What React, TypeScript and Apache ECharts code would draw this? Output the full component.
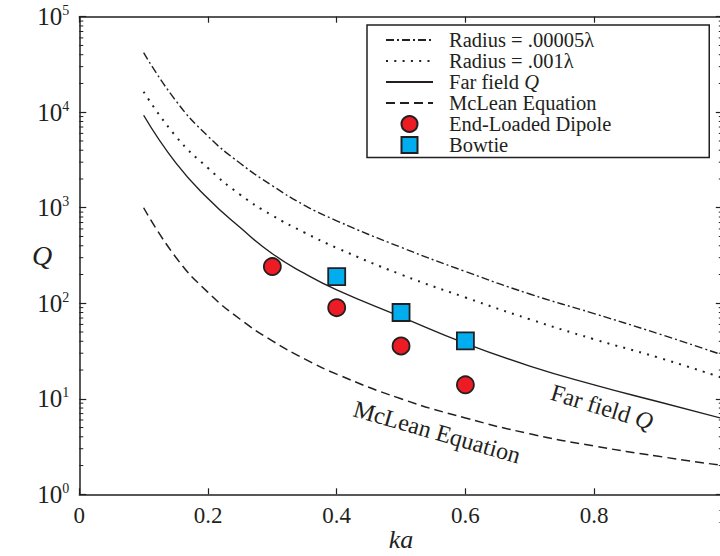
import React, { useEffect, useRef } from 'react';
import * as echarts from 'echarts';

// ka sample positions for the four curves
const kaCurve = [0.1, 0.15, 0.2, 0.25, 0.3, 0.35, 0.4, 0.5, 0.6, 0.7, 0.8, 0.9, 1.0];
// Q values
const qRadius00005 = [42000, 13200, 5600, 2920, 1700, 1060, 730, 385, 215, 125, 78, 48, 28.7];
const qRadius001 = [16400, 5600, 2600, 1370, 830, 550, 380, 200, 115, 68, 42, 27, 16.5];
const qFarField = [9300, 2950, 1250, 620, 330, 205, 138, 72, 38, 22, 14, 9.3, 6.2];
const qMcLean = [1000, 303, 130, 68, 40.4, 26.2, 18.1, 10, 6.3, 4.3, 3.2, 2.5, 2.0];

// measured antennas
const kaDipole = [0.3, 0.4, 0.5, 0.6];
const qDipole = [242, 90, 35.7, 14.0];
const kaBowtie = [0.4, 0.5, 0.6];
const qBowtie = [190, 80, 40.3];

// axis ticks
const xTicks = [0, 0.2, 0.4, 0.6, 0.8, 1];
const decades = [1, 10, 100, 1000, 10000];
const minorMultipliers = [2, 3, 4, 5, 6, 7, 8, 9];
const minorTickValues = decades.flatMap((d) => minorMultipliers.map((m) => m * d));

const seriesNames = [
  'Radius = .00005λ',
  'Radius = .001λ',
  'Far field Q',
  'McLean Equation',
  'End-Loaded Dipole',
  'Bowtie',
];

const INK = '#231F20';
const SERIF = '"Liberation Serif", "DejaVu Serif", serif';

const pairs = (xs: number[], ys: number[]) => xs.map((x, i) => [x, ys[i]]);

export default function App() {
  const ref = useRef<HTMLDivElement>(null);

  useEffect(() => {
    const chart = echarts.init(ref.current!, null, { renderer: 'svg' });

    const axisLine = { show: true, onZero: false, lineStyle: { color: INK, width: 1.5 } };

    const lineSeries = (name: string, data: number[], type: any, width: number) => ({
      name,
      type: 'line',
      data: pairs(kaCurve, data),
      showSymbol: false,
      symbol: 'none',
      smooth: 0.5,
      lineStyle: { color: INK, width, type },
      itemStyle: { color: INK },
      z: 3,
    });

    const hiddenIcon = {
      color: 'rgba(0,0,0,0)',
      borderColor: 'rgba(0,0,0,0)',
      borderWidth: 0,
      opacity: 0,
    };

    const option: any = {
      animation: false,
      backgroundColor: '#ffffff',
      textStyle: { fontFamily: SERIF, color: INK },
      grid: { left: 79.3, top: 16.7, width: 643.5, height: 477.6, containLabel: false, outerBoundsMode: 'none' },
      legend: {
        data: [
          { name: seriesNames[0], itemStyle: hiddenIcon },
          { name: seriesNames[1], itemStyle: hiddenIcon },
          { name: seriesNames[2], itemStyle: hiddenIcon },
          { name: seriesNames[3], itemStyle: hiddenIcon },
          { name: seriesNames[4] },
          { name: seriesNames[5], icon: 'path://M0,0L16,0L16,16L0,16Z' },
        ],
        orient: 'vertical',
        left: 367,
        top: 25,
        itemWidth: 47,
        itemHeight: 16,
        itemGap: 0,
        symbolKeepAspect: true,
        padding: [4.5, 98, 2, 18],
        borderColor: INK,
        borderWidth: 1.5,
        backgroundColor: '#ffffff',
        selectedMode: false,
        textStyle: {
          fontFamily: SERIF,
          fontSize: 20.5,
          color: INK,
          lineHeight: 20.7,
          padding: [0, 0, 0, 11],
          rich: { i: { fontFamily: SERIF, fontSize: 20.5, lineHeight: 20.7, fontStyle: 'italic', color: INK } },
        },
        formatter: (name: string) => (name === 'Far field Q' ? 'Far field {i|Q}' : name),
      },
      xAxis: [
        {
          type: 'value',
          min: xTicks[0],
          max: xTicks[xTicks.length - 1],
          interval: 0.2,
          position: 'bottom',
          axisLine,
          axisTick: { show: true, inside: true, length: 6, lineStyle: { color: INK, width: 1.2 } },
          axisLabel: { fontFamily: SERIF, fontSize: 23, color: INK, margin: 10 },
          splitLine: { show: false },
          name: 'ka',
          nameLocation: 'middle',
          nameGap: 32,
          nameMoveOverlap: false,
          nameTextStyle: { fontFamily: SERIF, fontSize: 26, fontStyle: 'italic', color: INK },
        },
        {
          type: 'value',
          min: xTicks[0],
          max: xTicks[xTicks.length - 1],
          interval: 0.2,
          position: 'top',
          axisLine,
          axisTick: { show: true, inside: true, length: 6, lineStyle: { color: INK, width: 1.2 } },
          axisLabel: { show: false },
          splitLine: { show: false },
        },
      ],
      yAxis: [
        {
          type: 'log',
          logBase: 10,
          min: 1,
          max: 100000,
          position: 'left',
          axisLine,
          axisTick: { show: true, inside: true, length: 7, lineStyle: { color: INK, width: 1.2 } },
          axisLabel: {
            margin: 10,
            formatter: (v: number) => `{a|10}{b|${Math.round(Math.log10(v))}}`,
            rich: {
              a: { fontFamily: SERIF, fontSize: 25, color: INK, lineHeight: 26 },
              b: { fontFamily: SERIF, fontSize: 14, color: INK, verticalAlign: 'top', lineHeight: 14 },
            },
          },
          splitLine: { show: false },
          name: 'Q',
          nameLocation: 'middle',
          nameRotate: 0,
          nameGap: 27,
          nameMoveOverlap: false,
          nameTextStyle: { fontFamily: SERIF, fontSize: 28, fontStyle: 'italic', color: INK },
        },
        {
          type: 'log',
          logBase: 10,
          min: 1,
          max: 100000,
          position: 'right',
          axisLine,
          axisTick: { show: true, inside: true, length: 7, lineStyle: { color: INK, width: 1.2 } },
          axisLabel: { show: false },
          splitLine: { show: false },
        },
      ],
      series: [
        {
          type: 'custom',
          name: 'minor ticks',
          silent: true,
          clip: false,
          xAxisIndex: 0,
          yAxisIndex: 0,
          encode: { x: 0, y: 1 },
          data: minorTickValues.map((v) => [0, v]),
          renderItem: (params: any, api: any) => {
            const y = api.coord([0, api.value(1)])[1];
            const xl = api.coord([0, 1])[0];
            const xr = api.coord([1, 1])[0];
            return {
              type: 'group',
              children: [
                { type: 'line', shape: { x1: xl, y1: y, x2: xl + 4, y2: y }, style: { stroke: INK, lineWidth: 1 } },
                { type: 'line', shape: { x1: xr, y1: y, x2: xr - 4, y2: y }, style: { stroke: INK, lineWidth: 1 } },
              ],
            };
          },
        },
        lineSeries(seriesNames[0], qRadius00005, [8, 3, 2, 3], 1.4),
        lineSeries(seriesNames[1], qRadius001, [2, 6.3], 2),
        lineSeries(seriesNames[2], qFarField, 'solid', 1.4),
        lineSeries(seriesNames[3], qMcLean, [9, 5], 1.5),
        {
          name: seriesNames[4],
          type: 'scatter',
          data: pairs(kaDipole, qDipole),
          symbol: 'circle',
          symbolSize: 17,
          itemStyle: { color: '#ED1C24', borderColor: INK, borderWidth: 1.8, opacity: 1 },
          z: 5,
        },
        {
          name: seriesNames[5],
          type: 'scatter',
          data: pairs(kaBowtie, qBowtie),
          symbol: 'rect',
          symbolSize: 17,
          itemStyle: { color: '#00AEEF', borderColor: INK, borderWidth: 1.8, opacity: 1 },
          z: 5,
        },
      ],
      graphic: [
        {
          type: 'text',
          x: 437,
          y: 432,
          rotation: -0.28,
          style: {
            text: 'McLean Equation',
            fontFamily: SERIF,
            fontSize: 24,
            fill: INK,
            align: 'center',
            verticalAlign: 'middle',
          },
        },
        {
          type: 'text',
          x: 602,
          y: 407,
          rotation: -0.295,
          style: {
            text: '{n|Far field }{i|Q}',
            fontFamily: SERIF,
            fontSize: 24,
            fill: INK,
            align: 'center',
            verticalAlign: 'middle',
            rich: {
              n: { fontFamily: SERIF, fontSize: 24, fill: INK },
              i: { fontFamily: SERIF, fontSize: 24, fontStyle: 'italic', fill: INK },
            },
          },
        },
      ],
    };

    chart.setOption(option);
    return () => chart.dispose();
  }, []);

  return (
    <div
      ref={ref}
      style={{ position: 'fixed', left: 0, top: 0, width: 720, height: 556, background: '#ffffff' }}
    />
  );
}
